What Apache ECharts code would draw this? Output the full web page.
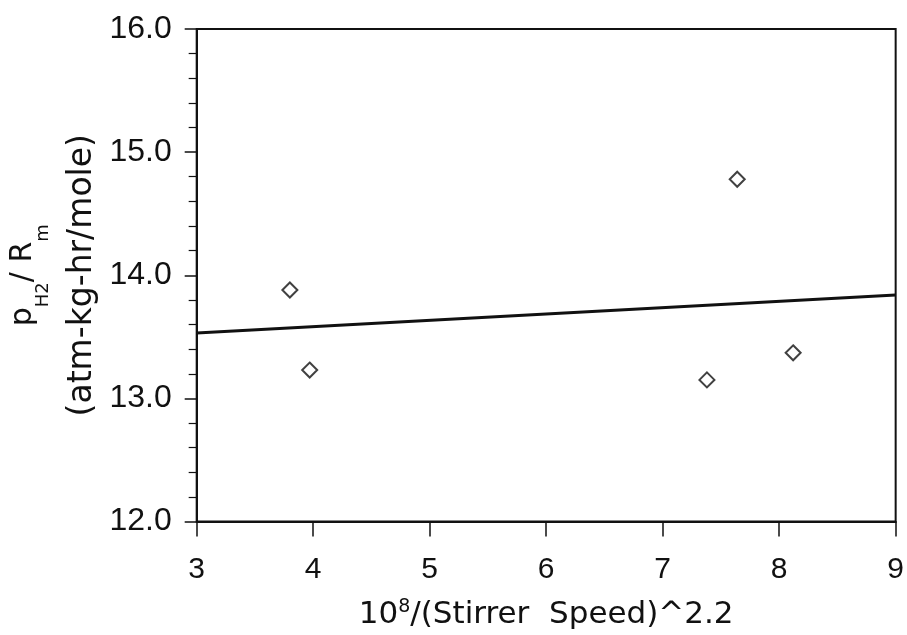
<!DOCTYPE html>
<html>
<head>
<meta charset="utf-8">
<script src="https://cdn.jsdelivr.net/npm/echarts@6/dist/echarts.min.js"></script>
<style>
  html, body { margin: 0; padding: 0; background: #fff; }
  #chart { width: 907px; height: 635px; }
</style>
</head>
<body>
<div id="chart"></div>
<script>
  // 散点数据 (x, y)
  const pointX = [3.80, 3.97, 7.38, 7.64, 8.12];
  const pointY = [13.88, 13.23, 13.15, 14.78, 13.37];
  // 拟合直线两端
  const fitX = [3, 9];
  const fitY = [13.53, 13.84];

  const chart = echarts.init(document.getElementById("chart"));
  const font = "Liberation Sans, Arial, sans-serif";
  const wide = "DejaVu Sans, sans-serif";

  const option = {
    backgroundColor: "#fff",
    animation: false,
    grid: {
      left: 192,
      right: 5.5,
      top: 29,
      bottom: 106,
      show: true,
      borderColor: "#111",
      borderWidth: 2,
    },
    xAxis: {
      type: "value",
      min: 3,
      max: 9,
      interval: 1,
      name: "{t|10}{sup|8}{t|/(Stirrer  Speed)^2.2}",
      nameLocation: "middle",
      nameGap: 76,
      nameTextStyle: {
        rich: {
          t: { fontSize: 31, fontFamily: wide, color: "#111", lineHeight: 34 },
          sup: { fontSize: 19, fontFamily: wide, color: "#111", verticalAlign: "top", lineHeight: 22 },
        },
      },
      axisLine: { lineStyle: { color: "#111", width: 2 } },
      axisTick: { show: true, length: 15, lineStyle: { color: "#111", width: 1.5 } },
      axisLabel: { fontSize: 30, fontFamily: font, color: "#111", margin: 33 },
      splitLine: { show: false },
    },
    yAxis: {
      type: "value",
      min: 12,
      max: 16,
      interval: 1,
      name: "{p|p}{sub|H2}{p|/ R}{sub|m}\n{q|(atm-kg-hr/mole)}",
      nameLocation: "middle",
      nameGap: 80,
      nameTextStyle: {
        rich: {
          p: { fontSize: 30, fontFamily: wide, color: "#111", lineHeight: 59 },
          sub: { fontSize: 18, fontFamily: wide, color: "#111", verticalAlign: "bottom", lineHeight: 19 },
          q: { fontSize: 33, fontFamily: wide, color: "#111", lineHeight: 59 },
        },
      },
      axisLine: { lineStyle: { color: "#111", width: 2 } },
      axisTick: { show: true, length: 12, lineStyle: { color: "#111", width: 1.5 } },
      minorTick: { show: true, splitNumber: 5, length: 8, lineStyle: { color: "#111", width: 1.2 } },
      axisLabel: {
        fontSize: 32,
        fontFamily: font,
        color: "#111",
        margin: 25,
        formatter: (v) => v.toFixed(1),
      },
      splitLine: { show: false },
    },
    series: [
      {
        type: "line",
        data: fitX.map((x, i) => [x, fitY[i]]),
        showSymbol: false,
        lineStyle: { color: "#111", width: 3 },
        z: 2,
      },
      {
        type: "scatter",
        data: pointX.map((x, i) => [x, pointY[i]]),
        symbol: "diamond",
        symbolSize: 15,
        itemStyle: { color: "#fff", borderColor: "#111", borderWidth: 2 },
        z: 3,
      },
    ],
  };

  chart.setOption(option);
</script>
</body>
</html>
